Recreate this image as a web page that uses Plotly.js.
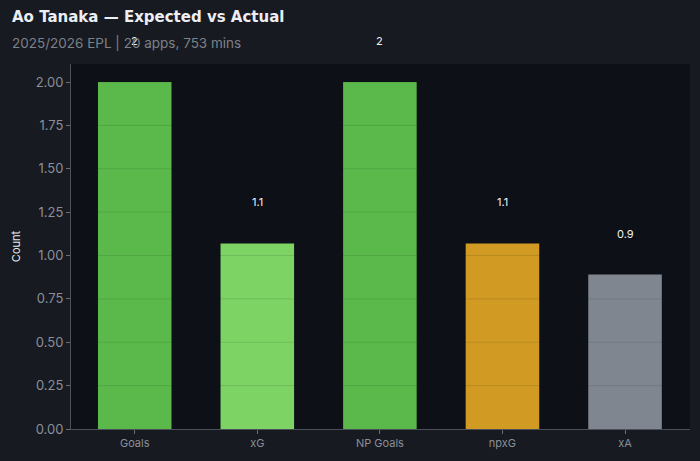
<!DOCTYPE html>
<html><head><meta charset="utf-8">
<script src="https://cdn.plot.ly/plotly-3.0.1.min.js"></script>
<style>html,body{margin:0;padding:0;background:#171a21;}</style>
</head><body>
<div id="chart" style="width:700px;height:461px;"></div>
<script>
const categories = ["Goals", "xG", "NP Goals", "npxG", "xA"];
const values = [2, 1.07, 2, 1.07, 0.89];
const labels = ["2", "1.1", "2", "1.1", "0.9"];
const colors = ["#5ab94a", "#7ed365", "#5ab94a", "#d19a22", "#80868f"];
const yTicks = [0, 0.25, 0.5, 0.75, 1, 1.25, 1.5, 1.75, 2];
const yTickText = ["0.00", "0.25", "0.50", "0.75", "1.00", "1.25", "1.50", "1.75", "2.00"];

const bars = {
  type: "bar", x: categories, y: values, width: 0.6,
  marker: {color: colors, line: {width: 0}},
  hoverinfo: "x+y"
};

const annotations = categories.map((c, i) => ({
  x: c, y: values[i], xref: "x", yref: "y", yshift: 41,
  xanchor: "center", yanchor: "middle",
  text: labels[i], showarrow: false,
  font: {family: "Inter, sans-serif", size: 11, color: "#f0f2f5"}
}));
annotations.push(
  {
    xref: "paper", yref: "paper", x: -0.099, y: 1.128, xanchor: "left", yanchor: "middle",
    text: "<b>Ao Tanaka — Expected vs Actual</b>", showarrow: false,
    font: {family: "DejaVu Sans, sans-serif", size: 15, color: "#eceef3"}
  },
  {
    xref: "paper", yref: "paper", x: -0.099, y: 1.055, xanchor: "left", yanchor: "middle",
    text: "2025/2026 EPL | 20 apps, 753 mins", showarrow: false,
    font: {family: "Inter, sans-serif", size: 13.5, color: "#7d818a"}
  }
);

const shapes = yTicks.slice(1).map(v => ({
  type: "line", xref: "paper", yref: "y", x0: 0, x1: 1, y0: v, y1: v,
  layer: "above", line: {color: "rgba(20,30,25,0.12)", width: 1}
}));

const layout = {
  width: 700, height: 461,
  paper_bgcolor: "#171a21", plot_bgcolor: "#0d1017",
  margin: {l: 71, r: 10, t: 64, b: 32},
  showlegend: false,
  xaxis: {
    type: "category", range: [-0.52, 4.53],
    showgrid: false, showline: true, linecolor: "#4a4f5a", linewidth: 1,
    ticks: "outside", ticklen: 4, tickcolor: "#6a6f7a",
    tickfont: {family: "Inter, sans-serif", size: 11, color: "#8a8f99"},
    zeroline: false, fixedrange: true
  },
  yaxis: {
    range: [0, 2.104], tickvals: yTicks, ticktext: yTickText,
    showgrid: false, showline: true, linecolor: "#4a4f5a", linewidth: 1,
    ticks: "outside", ticklen: 4, tickcolor: "#6a6f7a",
    tickfont: {family: "Inter, sans-serif", size: 13, color: "#8a8f99"},
    title: {text: "Count", standoff: 12, font: {family: "Inter, sans-serif", size: 11, color: "#e6e8ec"}},
    zeroline: false, fixedrange: true
  },
  annotations: annotations,
  shapes: shapes
};

Plotly.newPlot("chart", [bars], layout, {displayModeBar: false, staticPlot: true});
</script>
</body></html>
